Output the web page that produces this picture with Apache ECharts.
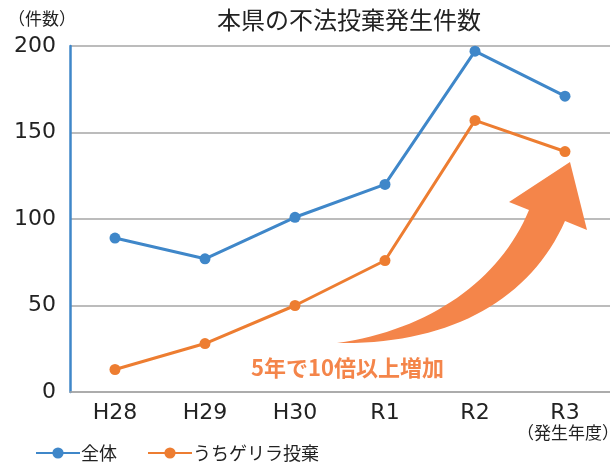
<!DOCTYPE html>
<html>
<head>
<meta charset="utf-8">
<script src="https://cdn.jsdelivr.net/npm/echarts@6/dist/echarts.min.js"></script>
<style>
  html, body { margin: 0; padding: 0; background: #fff; }
  #chart { width: 610px; height: 463px; }
</style>
</head>
<body>
<div id="chart"></div>
<script>
const years = ['H28', 'H29', 'H30', 'R1', 'R2', 'R3'];
const total = [89, 77, 101, 120, 197, 171];
const guerrilla = [13, 28, 50, 76, 157, 139];
const seriesNames = ['全体', 'うちゲリラ投棄'];

const BLUE = '#3f87c9';
const ORANGE = '#ed7d31';
const ARROW = '#f4854a';
const FONT = '"Noto Sans CJK JP", "Liberation Sans", sans-serif';
const NUM_FONT = '"DejaVu Sans", sans-serif';

const chart = echarts.init(document.getElementById('chart'));

// big curved arrow annotation (pixel outline)
const arrowPath =
  'M337,343 C430,330 500,280 529,210 L509,202 L570,162 L587,230 L565,221 ' +
  'C530,300 450,345 337,343 Z';

chart.setOption({
  animation: false,
  textStyle: { fontFamily: FONT },
  title: [
    {
      text: '本県の不法投棄発生件数',
      left: 212, top: 3,
      textStyle: { fontSize: 24, fontWeight: 'normal', color: '#222', fontFamily: FONT }
    },
    {
      text: '（件数）',
      left: 3, top: 5,
      textStyle: { fontSize: 17, fontWeight: 'normal', color: '#222', fontFamily: FONT }
    },
    {
      text: '（発生年度）',
      left: 512, top: 419,
      textStyle: { fontSize: 17, fontWeight: 'normal', color: '#222', fontFamily: FONT }
    },
    {
      text: '5年で10倍以上増加',
      left: 246, top: 352,
      textStyle: { fontSize: 22, fontWeight: 'bold', color: ARROW, fontFamily: FONT }
    }
  ],
  legend: {
    left: 30, top: 439,
    itemWidth: 44, itemHeight: 14, itemGap: 30,
    textStyle: { fontSize: 18, color: '#222', fontFamily: FONT, padding: [0, 0, 0, -4] },
    data: seriesNames
  },
  grid: { left: 70, top: 46, width: 548, height: 346 },
  xAxis: {
    type: 'category',
    data: years,
    axisLine: { lineStyle: { color: '#a6a6a6', width: 1.5 } },
    axisTick: { show: false },
    axisLabel: { fontSize: 22, color: '#222', margin: 10, fontFamily: NUM_FONT }
  },
  yAxis: {
    type: 'value',
    min: 0, max: 200, interval: 50,
    axisLine: { show: true, lineStyle: { color: BLUE, width: 2.5 } },
    axisTick: { show: false },
    axisLabel: { fontSize: 22, color: '#222', margin: 14, fontFamily: NUM_FONT },
    splitLine: { lineStyle: { color: '#a6a6a6', width: 1.5 } }
  },
  series: [
    {
      type: 'custom',
      silent: true,
      z: 1,
      data: [[0, 0]],
      renderItem: function () {
        return {
          type: 'path',
          shape: { pathData: arrowPath },
          style: { fill: ARROW }
        };
      }
    },
    {
      name: seriesNames[0],
      type: 'line',
      z: 3,
      data: total,
      symbol: 'circle', symbolSize: 11,
      lineStyle: { color: BLUE, width: 3 },
      itemStyle: { color: BLUE }
    },
    {
      name: seriesNames[1],
      type: 'line',
      z: 3,
      data: guerrilla,
      symbol: 'circle', symbolSize: 11,
      lineStyle: { color: ORANGE, width: 3 },
      itemStyle: { color: ORANGE }
    }
  ]
});
</script>
</body>
</html>
